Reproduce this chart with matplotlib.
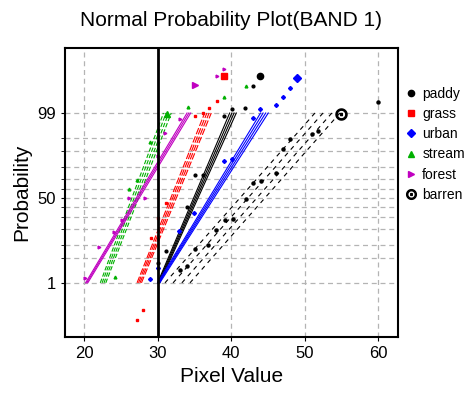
import numpy as np
import matplotlib
matplotlib.use('Agg')
import matplotlib.pyplot as plt
from matplotlib.lines import Line2D
from statistics import NormalDist

plt.rcParams['font.family'] = ['Liberation Sans', 'DejaVu Sans']

classes = ['paddy', 'grass', 'urban', 'stream', 'forest', 'barren']
colors = {'paddy': 'black', 'grass': '#ff0000', 'urban': '#0000ff',
          'stream': '#00b000', 'forest': '#c000c0', 'barren': 'black'}
markers = {'paddy': 'o', 'grass': 's', 'urban': 'D',
           'stream': '^', 'forest': '>', 'barren': 'o'}

# fitted lines: pixel value at 1% and at 99%
fit_lo = {
    'paddy':  [30.0, 30.1, 30.2, 30.3],
    'grass':  [27.2, 27.4, 27.6, 27.8],
    'urban':  [30.0, 30.1, 30.2, 30.3],
    'stream': [22.2, 22.45, 22.7, 22.95],
    'forest': [20.2, 20.35, 20.5],
    'barren': [31.0, 32.1, 33.3, 34.4],
}
fit_hi = {
    'paddy':  [39.8, 40.1, 40.4, 40.7],
    'grass':  [36.4, 36.7, 37.0, 37.3],
    'urban':  [44.0, 44.35, 44.7, 45.05],
    'stream': [30.8, 31.15, 31.5, 31.85],
    'forest': [34.0, 34.25, 34.5],
    'barren': [51.4, 52.5, 53.7, 54.8],
}

# sample points (pixel value, probability %)
pts_x = {
    'paddy':  [30.1, 31.2, 34.0, 35.1, 36.2, 39.05, 40.1, 41.9, 43.0],
    'grass':  [27.2, 28.0, 29.1, 30.1, 31.2, 35.1, 36.2, 37.0, 38.1],
    'urban':  [29.0, 30.1, 32.9, 35.0, 39.05, 40.1, 43.0, 43.9, 46.1, 47.1, 48.0],
    'stream': [24.2, 26.1, 27.2, 29.0, 34.2, 39.05, 42.0],
    'forest': [20.1, 22.0, 24.1, 25.2, 26.1, 28.3, 30.1, 31.0, 33.1, 38.1, 39.05],
    'barren': [33.1, 34.0, 35.1, 36.9, 38.0, 39.2, 40.3, 42.0, 43.0, 44.1,
               46.1, 47.1, 48.0, 51.0, 51.8, 60.0],
}
pts_p = {
    'paddy':  [3.7, 7.3, 39.7, 73.9, 73.9, 98.76, 99.26, 99.31, 99.89],
    'grass':  [0.043, 0.11, 13.6, 28.9, 45.0, 98.8, 99.0, 99.3, 99.6],
    'urban':  [1.3, 2.7, 18.0, 33.7, 84.6, 85.8, 98.6, 99.25, 99.45, 99.71, 99.87],
    'stream': [1.5, 60.0, 69.0, 93.8, 99.36, 99.71, 99.89],
    'forest': [1.4, 8.9, 17.4, 27.0, 50.0, 50.0, 87.7, 96.2, 98.5, 99.96, 99.98],
    'barren': [2.4, 3.1, 8.1, 9.8, 18.8, 27.0, 27.9, 48.4, 66.0, 68.0,
               75.6, 91.1, 94.7, 96.0, 96.7, 99.57],
}

# one larger marker per class
big_x = {'paddy': 43.9, 'grass': 39.05, 'urban': 49.0, 'stream': 31.3,
         'forest': 35.1, 'barren': 55.0}
big_p = {'paddy': 99.957, 'grass': 99.957, 'urban': 99.95, 'stream': 98.9,
         'forest': 99.9, 'barren': 98.9}

grid_p = [1, 5, 10, 20, 30, 40, 50, 60, 70, 80, 90, 95, 99]
label_p = [1, 50, 99]

nd = NormalDist()
def z(p):
    return np.array([nd.inv_cdf(v / 100.0) for v in np.atleast_1d(p)])

fig = plt.figure(figsize=(4.69, 3.96), dpi=100)
ax = fig.add_axes([0.1386, 0.149, 0.71, 0.730])

dash_styles = {'paddy': '-', 'grass': (0, (6, 2)), 'urban': '-',
               'stream': (0, (4, 2)), 'forest': '-', 'barren': (0, (4, 4))}

for c in classes:
    col = colors[c]
    for lo, hi in zip(fit_lo[c], fit_hi[c]):
        ax.plot([lo, hi], z([1, 99]), color=col, lw=0.8, linestyle=dash_styles[c])
    if c == 'barren':
        ax.plot(pts_x[c], z(pts_p[c]), 'o', color=col, ms=2.2, mfc=col, ls='none')
        ax.plot(big_x[c], z(big_p[c])[0], marker='$\\odot$', color=col, ms=8, ls='none')
    else:
        ax.plot(pts_x[c], z(pts_p[c]), markers[c], color=col, ms=2.0, ls='none')
        ax.plot(big_x[c], z(big_p[c])[0], markers[c], color=col, ms=4.5, ls='none')

ax.axvline(30, color='black', lw=2)

ax.set_xlim(17.4, 62.7)
ax.set_ylim(-3.81, 4.11)
ax.set_xticks([20, 30, 40, 50, 60])
ax.set_yticks(z(label_p))
ax.set_yticklabels([str(v) for v in label_p])
ax.set_yticks(z([v for v in grid_p if v not in label_p]), minor=True)
ax.tick_params(labelsize=12, length=3)
ax.tick_params(which='minor', length=3)
ax.grid(True, which='both', color='#b4b4b4', linestyle=(0, (4, 3)), lw=0.9)
ax.set_axisbelow(True)
for s in ax.spines.values():
    s.set_linewidth(1.5)

ax.set_title('Normal Probability Plot(BAND 1)', fontsize=15, pad=16)
ax.set_xlabel('Pixel Value', fontsize=15)
ax.set_ylabel('Probability', fontsize=15)

handles = []
for c in classes:
    if c == 'barren':
        handles.append(Line2D([], [], marker='$\\odot$', color='black', ms=7, ls='none'))
    else:
        handles.append(Line2D([], [], marker=markers[c], color=colors[c], ms=4.5, ls='none'))
fig.legend(handles, classes, loc='upper left', bbox_to_anchor=(0.85, 0.795),
           frameon=False, fontsize=10, handletextpad=0.3, labelspacing=0.45,
           borderaxespad=0, handlelength=1.0)

fig.savefig('out.png', dpi=100)
